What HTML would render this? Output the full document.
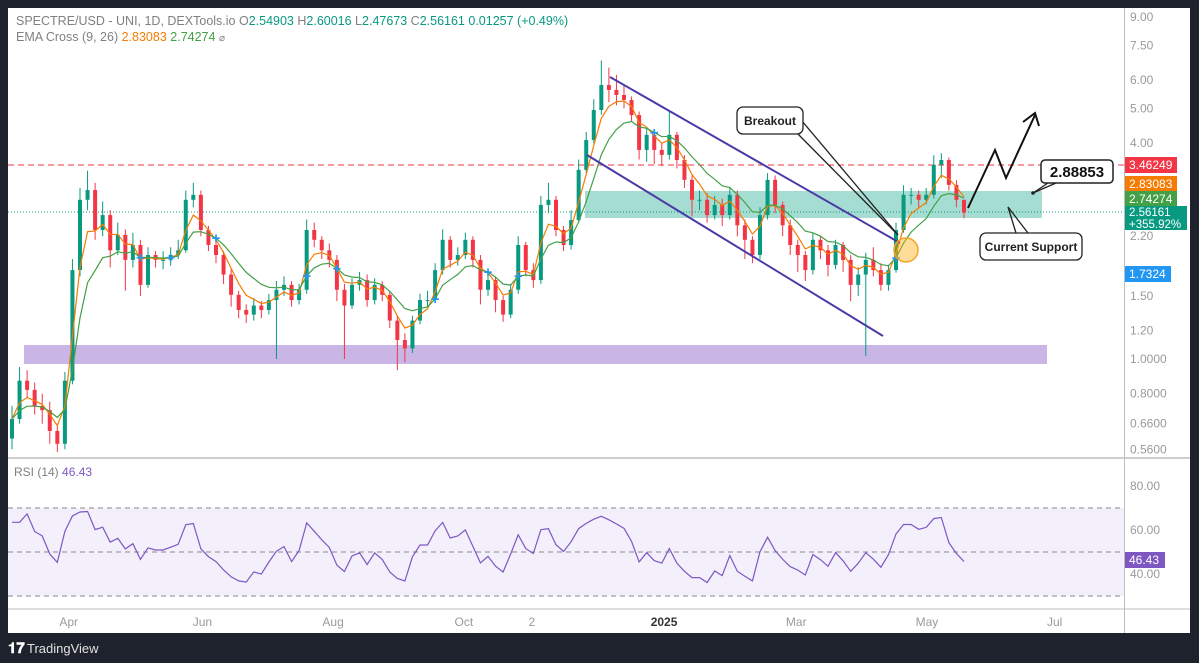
<!DOCTYPE html>
<html><head><meta charset="utf-8"><style>
html,body{margin:0;padding:0;background:#1e222d;width:1199px;height:663px;overflow:hidden;font-family:"Liberation Sans",sans-serif}
svg{display:block}
</style></head><body>
<svg id="chart" width="1199" height="663" xmlns="http://www.w3.org/2000/svg">
<rect x="0" y="0" width="1199" height="663" fill="#1e222d"/>
<rect x="8" y="8" width="1182" height="625" fill="#ffffff"/>
<rect x="8" y="508" width="1116" height="88" fill="#f3f0fb"/>
<line x1="8" y1="458" x2="1190" y2="458" stroke="#bdbdbd" stroke-width="1.5"/>
<line x1="8" y1="609" x2="1190" y2="609" stroke="#bdbdbd" stroke-width="1"/>
<line x1="1124.5" y1="8" x2="1124.5" y2="633" stroke="#bdbdbd" stroke-width="1"/>
<g stroke="#888" stroke-dasharray="5,4" stroke-width="1">
<line x1="8" y1="508" x2="1124" y2="508"/><line x1="8" y1="552" x2="1124" y2="552"/><line x1="8" y1="596" x2="1124" y2="596"/>
</g>
<rect x="24" y="345" width="1023" height="19" fill="#c9b5e6"/>
<rect x="585" y="191" width="457" height="27" fill="#a5ddd3"/>
<line x1="8" y1="165" x2="1124" y2="165" stroke="#f23645" stroke-dasharray="6,4" stroke-width="1"/>
<line x1="8" y1="212" x2="1124" y2="212" stroke="#089981" stroke-dasharray="1,2" stroke-width="1"/>
<g id="candles"></g>
<g id="emas"></g>
<g id="crosses"></g>
<line x1="610" y1="77" x2="900" y2="243" stroke="#4a3aa8" stroke-width="2"/>
<line x1="587" y1="155" x2="883" y2="336" stroke="#4a3aa8" stroke-width="2"/>
<circle cx="906" cy="250" r="12" fill="rgba(255,170,0,0.4)" stroke="#f5a623" stroke-width="1.5"/>
<g stroke="#222" stroke-width="1.3" fill="none">
<line x1="792" y1="128" x2="898" y2="235"/><line x1="802" y1="121" x2="898" y2="235"/>
</g>
<rect x="737" y="107" width="66" height="27" rx="6" fill="#fff" stroke="#222" stroke-width="1.3"/>
<text x="770" y="125" text-anchor="middle" font-size="12" font-weight="bold" fill="#222">Breakout</text>
<polyline points="968,208 995,150 1006,178 1035,115" fill="none" stroke="#111" stroke-width="2"/>
<polyline points="1023,122 1035,113 1039,126" fill="none" stroke="#111" stroke-width="2"/>
<g stroke="#222" stroke-width="1.3" fill="none">
<line x1="1048" y1="183" x2="1033" y2="193"/><line x1="1056" y1="183" x2="1033" y2="193"/></g>
<circle cx="1033" cy="193" r="1.8" fill="#222"/>
<rect x="1041" y="160" width="72" height="23" rx="4" fill="#fff" stroke="#222" stroke-width="1.5"/>
<text x="1077" y="177" text-anchor="middle" font-size="15" font-weight="bold" fill="#111">2.88853</text>
<g stroke="#222" stroke-width="1.3" fill="none">
<line x1="1016" y1="233" x2="1008" y2="207"/><line x1="1028" y1="233" x2="1008" y2="207"/></g>
<rect x="980" y="233" width="102" height="27" rx="6" fill="#fff" stroke="#222" stroke-width="1.3"/>
<text x="1031" y="251" text-anchor="middle" font-size="12" font-weight="bold" fill="#222">Current Support</text>
<path id="rsiPath" fill="none" stroke="#7e57c2" stroke-width="1.2"/>
<g id="yaxis" font-size="12" fill="#9a9a9a"></g>
<g id="xaxis" font-size="12" fill="#9a9a9a"></g>
<g font-size="12">
<rect x="1125" y="157" width="52" height="16" fill="#f23645"/><text x="1129" y="169" fill="#fff">3.46249</text>
<rect x="1125" y="176" width="52" height="16" fill="#f57c00"/><text x="1129" y="188" fill="#fff">2.83083</text>
<rect x="1125" y="191" width="52" height="16" fill="#43a047"/><text x="1129" y="203" fill="#fff">2.74274</text>
<rect x="1125" y="206" width="62" height="24" fill="#089981"/><text x="1129" y="216" fill="#fff" font-size="11.5">2.56161</text><text x="1129" y="228" fill="#fff" font-size="11.5">+355.92%</text>
<rect x="1125" y="266" width="46" height="16" fill="#2196f3"/><text x="1129" y="278" fill="#fff">1.7324</text>
<rect x="1125" y="552" width="40" height="16" fill="#7e57c2"/><text x="1129" y="564" fill="#fff">46.43</text>
</g>
<text x="16" y="25" font-size="12.5" fill="#808080">SPECTRE/USD - UNI, 1D, DEXTools.io  O<tspan fill="#089981">2.54903</tspan>  H<tspan fill="#089981">2.60016</tspan>  L<tspan fill="#089981">2.47673</tspan>  C<tspan fill="#089981">2.56161</tspan>  <tspan fill="#089981">0.01257 (+0.49%)</tspan></text>
<text x="16" y="41" font-size="12.5" fill="#808080">EMA Cross (9, 26)  <tspan fill="#f57c00">2.83083</tspan>  <tspan fill="#43a047">2.74274</tspan>  <tspan font-size="10">⌀</tspan></text>
<text x="14" y="476" font-size="12" fill="#808080">RSI (14)  <tspan fill="#7e57c2">46.43</tspan></text>
<text x="8" y="653" font-size="15" fill="#ffffff" font-weight="bold">𝟏𝟕</text>
<text x="27" y="653" font-size="13" fill="#e0e0e0">TradingView</text>
</svg>
<script>
const closes=[0.68,0.87,0.82,0.74,0.72,0.63,0.58,0.87,1.77,2.78,2.96,2.29,2.52,2.01,2.22,1.89,2.08,1.61,1.95,1.89,1.89,1.95,2.01,2.78,2.87,2.29,2.08,1.95,1.72,1.51,1.37,1.33,1.41,1.37,1.46,1.56,1.61,1.46,1.56,2.29,2.15,2.01,1.89,1.56,1.41,1.61,1.66,1.46,1.61,1.51,1.28,1.13,1.07,1.28,1.46,1.46,1.77,2.15,1.89,1.95,2.15,1.89,1.56,1.66,1.46,1.33,1.56,2.08,1.77,1.66,2.69,2.78,2.29,2.08,2.44,3.37,4.08,4.95,5.81,5.63,5.45,5.28,4.79,3.83,4.22,3.83,3.71,4.22,3.59,3.16,2.78,2.78,2.52,2.69,2.52,2.87,2.36,2.15,1.95,2.52,3.16,2.69,2.36,2.08,1.95,1.77,2.15,2.01,1.83,2.08,1.89,1.61,1.72,1.89,1.77,1.61,1.77,2.29,2.87,2.87,2.78,2.87,3.48,3.59,3.06,2.78,2.56];
const highs=[0.74,0.95,0.93,0.86,0.80,0.76,0.66,0.92,1.90,3.00,3.35,3.10,2.75,2.60,2.40,2.30,2.25,2.15,2.05,2.00,2.00,2.05,2.15,2.95,3.10,2.95,2.35,2.15,2.00,1.78,1.55,1.42,1.48,1.45,1.52,1.65,1.70,1.65,1.62,2.45,2.40,2.20,2.10,1.95,1.62,1.68,1.75,1.72,1.68,1.65,1.55,1.32,1.18,1.32,1.52,1.55,1.85,2.30,2.20,2.05,2.25,2.20,1.95,1.75,1.70,1.50,1.62,2.20,2.12,1.85,2.85,3.10,2.85,2.35,2.60,3.60,4.30,5.30,6.80,6.50,6.20,5.80,5.40,4.90,4.40,4.30,4.00,4.90,4.30,3.70,3.25,2.95,2.90,2.85,2.80,3.00,2.95,2.45,2.20,2.65,3.30,3.25,2.75,2.45,2.15,2.00,2.25,2.20,2.08,2.15,2.12,1.95,1.80,1.98,2.05,1.85,1.82,2.40,3.05,3.00,2.95,3.00,3.70,3.75,3.65,3.15,2.60];
const lows=[0.56,0.66,0.78,0.70,0.66,0.58,0.55,0.56,0.85,1.70,2.60,2.15,2.20,1.80,1.95,1.55,1.80,1.50,1.58,1.80,1.78,1.82,1.90,1.98,2.65,2.20,2.00,1.85,1.62,1.40,1.30,1.26,1.28,1.30,1.33,1.00,1.50,1.40,1.42,1.52,2.05,1.90,1.80,1.45,1.00,1.38,1.55,1.40,1.42,1.45,1.22,0.93,0.98,1.04,1.25,1.40,1.44,1.72,1.80,1.82,1.90,1.80,1.42,1.50,1.35,1.27,1.30,1.52,1.70,1.58,1.62,2.55,2.20,2.00,2.02,2.40,3.30,4.00,4.80,5.20,5.10,5.00,4.60,3.60,3.55,3.50,3.45,3.60,3.40,3.00,2.50,2.60,2.40,2.45,2.35,2.45,2.20,1.90,1.85,1.90,2.45,2.55,2.20,1.95,1.75,1.65,1.72,1.90,1.70,1.78,1.75,1.45,1.50,1.02,1.70,1.55,1.55,1.74,2.25,2.70,2.65,2.70,2.80,3.20,2.95,2.65,2.47];
const firstOpen=0.60;
const priceTicks=["9.00","7.50","6.00","5.00","4.00","2.20","1.50","1.20","1.0000","0.8000","0.6600","0.5600"];
const rsiTicks=["80.00","60.00","40.00"];
const monthLabels=["Apr","Jun","Aug","Oct","2","2025","Mar","May","Jul"];
const monthIndex=[7.5,25.2,42.5,59.8,68.8,86.3,103.8,121.1,138.0];

const NS="http://www.w3.org/2000/svg";
const X0=12,X1=964;
function xAt(i){return X0+i*(X1-X0)/(closes.length-1);}
function yP(p){return 359-155.7*Math.log(p);}
function yR(v){return 486+(80-v)*2.2;}
function mk(tag,attrs,parent){const e=document.createElementNS(NS,tag);for(const k in attrs)e.setAttribute(k,attrs[k]);parent.appendChild(e);return e;}

const cg=document.getElementById('candles');
closes.forEach((c,i)=>{
  const o=i===0?firstOpen:closes[i-1];
  const up=c>=o, col=up?'#089981':'#f23645', x=xAt(i);
  const g=mk('g',{},cg);
  
  
  mk('line',{x1:x,x2:x,y1:yP(highs[i]),y2:yP(lows[i]),stroke:col,'stroke-width':1},g);
  const t=yP(Math.max(o,c)),b=yP(Math.min(o,c));
  mk('rect',{x:x-2,y:t,width:4,height:Math.max(1,b-t),fill:col},g);
});
function ema(arr,n){const k=2/(n+1);const out=[];let v=arr[0];arr.forEach((a,i)=>{v=i===0?a:a*k+v*(1-k);out.push(v);});return out;}
const e9=ema(closes,4),e26=ema(closes,9);
const eg=document.getElementById('emas');
[[e9,'#f57c00','ema-9-line'],[e26,'#43a047','ema-26-line']].forEach(([s,col,nm])=>{
  const p=mk('path',{d:s.map((v,i)=>(i?'L':'M')+xAt(i).toFixed(1)+','+yP(v).toFixed(1)).join(''),fill:'none',stroke:col,'stroke-width':1.2},eg);
  
  
});
const xg=document.getElementById('crosses');
for(let i=10;i<closes.length;i++){
  if((e9[i]-e26[i])*(e9[i-1]-e26[i-1])<0){
    const x=xAt(i),y=yP(e26[i]);
    const t=mk('text',{x:x,y:y+5,'text-anchor':'middle','font-size':15,'font-weight':'bold',fill:'#2196f3'},xg);
    t.textContent='+';
    
    
  }
}
// RSI (short lookback on resampled bars to approximate daily RSI character)
const rsi=[];let ag=0,al=0;const N=5;
for(let i=0;i<closes.length;i++){
  const d=i===0?closes[0]-firstOpen:Math.log(closes[i]/closes[i-1]);
  const g=Math.max(d,0),l=Math.max(-d,0);
  if(i===0){ag=g;al=l;}else{ag=(ag*(N-1)+g)/N;al=(al*(N-1)+l)/N;}
  const raw=al===0?80:100-100/(1+ag/al);
  rsi.push(50+(raw-50)*0.45);
}
document.getElementById('rsiPath').setAttribute('d',rsi.map((v,i)=>(i?'L':'M')+xAt(i).toFixed(1)+','+yR(Math.min(85,Math.max(25,v))).toFixed(1)).join(''));
const ya=document.getElementById('yaxis');
priceTicks.forEach(t=>{const y=yP(parseFloat(t));const e=mk('text',{x:1130,y:y+4},ya);e.textContent=t;
  
  });
rsiTicks.forEach(t=>{const e=mk('text',{x:1130,y:yR(parseFloat(t))+4},ya);e.textContent=t;
  
  });
const xa=document.getElementById('xaxis');
monthLabels.forEach((m,i)=>{const e=mk('text',{x:xAt(monthIndex[i]),y:626,'text-anchor':'middle'},xa);e.textContent=m;
  if(m==='2025'){e.setAttribute('fill','#333');e.setAttribute('font-weight','bold');}
  
  });
</script>
</body></html>
